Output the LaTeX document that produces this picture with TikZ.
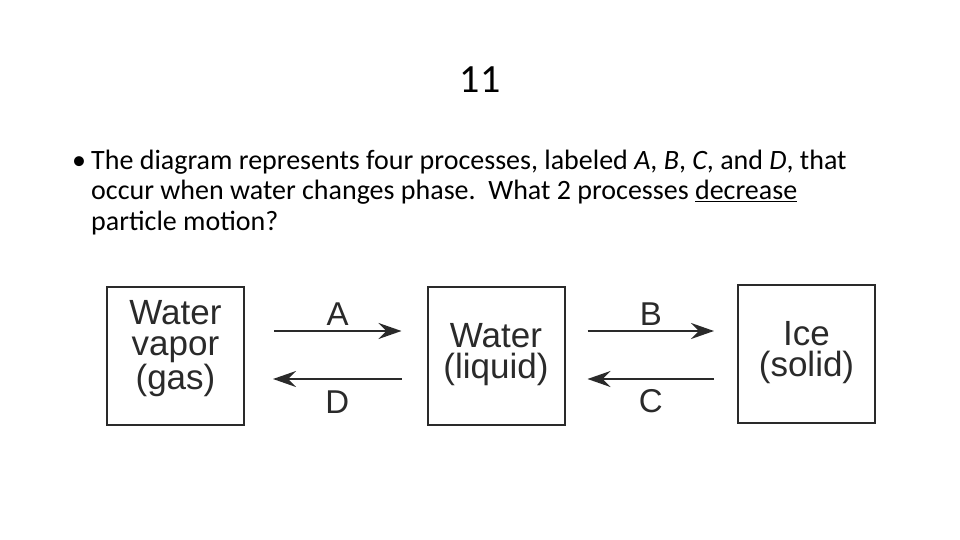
\documentclass[tikz,border=0pt]{standalone}
\usepackage{fontspec}
\setmainfont{Carlito}
\newfontfamily\diag{Liberation Sans}
\usetikzlibrary{arrows.meta}
\definecolor{ink}{HTML}{2A2A2A}
\tikzset{
  phase/.style={draw=ink, line width=2pt, minimum width=137pt, minimum height=138pt, inner sep=0pt},
  phasetext/.style={anchor=base, inner sep=0pt, align=center, text=ink, font=\diag\fontsize{35}{31}\selectfont},
  arr/.style={draw=ink, line width=2.2pt, -{Stealth[length=23pt,width=16pt,inset=8pt]}},
  lbl/.style={text=ink, font=\diag\fontsize{33}{34}\selectfont, anchor=base, inner sep=0pt},
  body/.style={anchor=base west, inner sep=0pt, font=\fontsize{28}{30}\selectfont},
}
\begin{document}
\begin{tikzpicture}[x=1pt,y=-1pt]
\useasboundingbox (0,0) rectangle (960,540);
\node[font=\fontsize{40}{48}\selectfont, anchor=base, inner sep=0pt] (title) at (480,93) {11};
\node[body] (bul) at (72,170) {•};
\node[body] (l1) at (91,170) {The diagram represents four processes, labeled \textit{A}, \textit{B}, \textit{C}, and \textit{D}, that};
\node[body] (l2) at (91,200) {occur when water changes phase.\ \ What 2 processes \underline{decrease}};
\node[body] (l3) at (91,230) {particle motion?};

\node[phase] (b1) at (175.5,356) {};
\node[phase] (b2) at (496,356) {};
\node[phase] (b3) at (806.5,354) {};
\node[phasetext] (t1) at ([yshift=-33pt]b1.center) {Water\\vapor\\(gas)};
\node[phasetext] (t2) at ([yshift=-22pt]b2.center) {Water\\(liquid)};
\node[phasetext] (t3) at ([yshift=-22pt]b3.center) {Ice\\(solid)};

\draw[arr] ([shift={(29,-25)}]b1.east) -- node[lbl, yshift=6pt] {A} ([shift={(-25,-25)}]b2.west);
\draw[arr] ([shift={(-25,23)}]b2.west) -- node[lbl, yshift=-34pt] {D} ([shift={(28,23)}]b1.east);
\draw[arr] ([shift={(22,-25)}]b2.east) -- node[lbl, yshift=6pt] {B} ([shift={(-23,-23)}]b3.west);
\draw[arr] ([shift={(-23,25)}]b3.west) -- node[lbl, yshift=-33pt] {C} ([shift={(22,23)}]b2.east);
\end{tikzpicture}
\end{document}
